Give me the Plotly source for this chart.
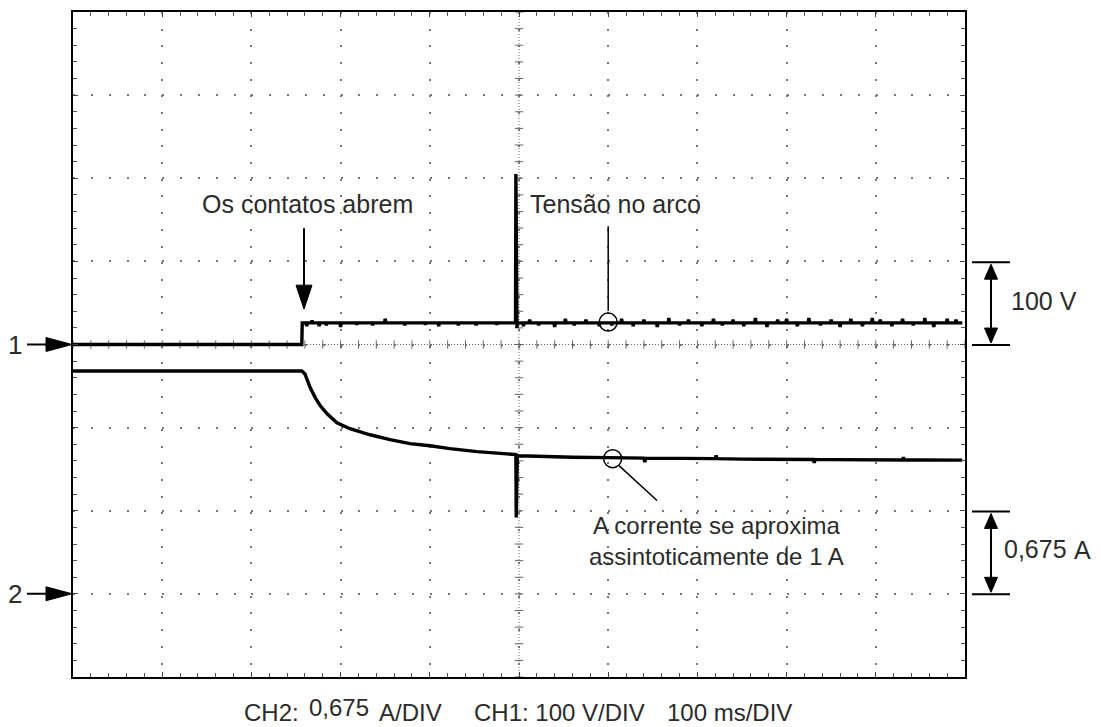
import plotly.graph_objects as go

# ---------------- data ----------------
# CH1: voltage across contacts (V), 100 V/DIV, ground at centre line
ch1_closed_t_ms = [0, 256.5]
ch1_closed_v = [0, 0]
ch1_open_t_ms = 257.0
ch1_arc_level_v = 26
ch1_end_t_ms = 997
# short noise blips on the arc-voltage level
ch1_blip_t_ms = [262, 268, 276, 284, 300, 318, 336, 350, 372, 395, 410, 432, 452, 475,
                 505, 512, 522, 540, 552, 562, 575, 590, 604, 615, 628, 640, 655, 668,
                 680, 690, 705, 718, 728, 740, 752, 765, 778, 790, 800, 812, 825, 838,
                 850, 860, 872, 885, 896, 905, 918, 930, 942, 955, 965, 980, 990]
ch1_blip_v = [22, 29, 22, 23, 21, 24, 23, 31, 23, 24, 22, 23, 23, 24,
              22, 30, 23, 21, 31, 23, 30, 22, 23, 31, 22, 30, 21, 32,
              23, 30, 22, 31, 23, 30, 22, 32, 21, 30, 31, 22, 32, 23,
              30, 21, 31, 22, 32, 30, 22, 31, 23, 32, 21, 31, 30]
# the arc-voltage spike
ch1_spike_t_ms = [496.5, 496.9, 497.3, 497.7, 498.1]
ch1_spike_v = [205, 60, 108, 20, 26]

# CH2: current (A), 0.675 A/DIV, ground one division above the bottom
ch2_t_ms = [0, 256.5, 260, 266, 271.7, 277.3, 284.9, 295.9, 310.5, 333, 355.4, 377.8,
            400.2, 422.6, 452.9, 482, 496.5, 496.9, 497.3, 497.7, 498.1, 510, 530,
            560, 600, 640, 641, 642, 680, 720, 721, 722, 750, 800, 830, 831, 832,
            850, 900, 930, 931, 932, 950, 997]
ch2_a = [1.81, 1.81, 1.786, 1.673, 1.592, 1.527, 1.462, 1.389, 1.341, 1.292, 1.252,
         1.220, 1.203, 1.179, 1.155, 1.139, 1.131, 0.62, 1.00, 0.75, 1.12, 1.12,
         1.114, 1.110, 1.106, 1.102, 1.07, 1.102, 1.100, 1.098, 1.125, 1.098, 1.094,
         1.092, 1.091, 1.065, 1.091, 1.090, 1.088, 1.087, 1.11, 1.087, 1.087, 1.086]

arc_marker = (600, 27)         # (ms, V)
current_marker = (605, 1.098)  # (ms, A)

volts_per_div = 100
amps_per_div = 0.675
ms_per_div = 100

# assemble CH1 series from the values above
ch1_t = list(ch1_closed_t_ms) + [ch1_open_t_ms]
ch1_v = list(ch1_closed_v) + [ch1_arc_level_v]
events = [(t, [(t - 0.8, ch1_arc_level_v), (t, v), (t + 0.8, ch1_arc_level_v)])
          for t, v in zip(ch1_blip_t_ms, ch1_blip_v)]
events.append((ch1_spike_t_ms[0],
               [(ch1_spike_t_ms[0] - 0.4, ch1_arc_level_v)] + list(zip(ch1_spike_t_ms, ch1_spike_v))))
events.sort(key=lambda e: e[0])
for _, pts in events:
    for t, v in pts:
        ch1_t.append(t)
        ch1_v.append(v)
ch1_t.append(ch1_end_t_ms)
ch1_v.append(ch1_arc_level_v)

# ---------------- geometry helpers (plot area in pixels) ----------------
L, R, T, B = 73, 965, 10, 677
W, H = R - L, B - T


def PX(x):
    return (x - L) / W


def PY(y):
    return (B - y) / H


FONT = "Liberation Sans, Arial, sans-serif"
TXT = "#2b2b2b"

fig = go.Figure()

# centre-line cross ticks (graticule decoration)
ctr_x = [i * ms_per_div / 5 for i in range(51)]
ctr_y = [i * volts_per_div / 5 for i in range(-20, 21)]
fig.add_trace(go.Scatter(x=ctr_x, y=[0] * len(ctr_x), mode="markers",
                         marker=dict(symbol="line-ns", size=6,
                                     line=dict(width=1, color="#666")),
                         hoverinfo="skip", showlegend=False))
fig.add_trace(go.Scatter(x=[5 * ms_per_div] * len(ctr_y), y=ctr_y, mode="markers",
                         marker=dict(symbol="line-ew", size=6,
                                     line=dict(width=1, color="#666")),
                         hoverinfo="skip", showlegend=False))

# traces
fig.add_trace(go.Scatter(x=ch1_t, y=ch1_v, mode="lines",
                         line=dict(color="black", width=3.4),
                         showlegend=False, yaxis="y"))
fig.add_trace(go.Scatter(x=ch2_t_ms, y=ch2_a, mode="lines",
                         line=dict(color="black", width=3.4),
                         showlegend=False, yaxis="y2"))

shapes = []
# centre dotted lines
shapes.append(dict(type="line", xref="x", yref="y", x0=0, x1=10 * ms_per_div, y0=0, y1=0,
                   line=dict(color="#666", width=1, dash="1px,2px"), layer="below"))
shapes.append(dict(type="line", xref="x", yref="y", x0=5 * ms_per_div, x1=5 * ms_per_div,
                   y0=-4 * volts_per_div, y1=4 * volts_per_div,
                   line=dict(color="#666", width=1, dash="1px,2px"), layer="below"))

# "Os contatos abrem" arrow
ax = PX(304)
shapes.append(dict(type="line", xref="paper", yref="paper", x0=ax, x1=ax,
                   y0=PY(227), y1=PY(290), line=dict(color="black", width=2)))
shapes.append(dict(type="path", xref="paper", yref="paper",
                   path=f"M{PX(296)},{PY(284)} L{PX(312)},{PY(284)} L{ax},{PY(308)} Z",
                   fillcolor="black", line=dict(color="black", width=1)))

# arc voltage marker: circle + pointer
shapes.append(dict(type="circle", xref="x", yref="y", xsizemode="pixel", ysizemode="pixel",
                   xanchor=arc_marker[0], yanchor=arc_marker[1], x0=-9, x1=9, y0=-9, y1=9,
                   line=dict(color="black", width=1.5)))
shapes.append(dict(type="line", xref="x", yref="paper", x0=arc_marker[0], x1=arc_marker[0],
                   y0=PY(225), y1=PY(310), line=dict(color="black", width=1.5)))

# current marker: circle + pointer
shapes.append(dict(type="circle", xref="x", yref="y2", xsizemode="pixel", ysizemode="pixel",
                   xanchor=current_marker[0], yanchor=current_marker[1], x0=-9, x1=9, y0=-9, y1=9,
                   line=dict(color="black", width=1.5)))
shapes.append(dict(type="line", xref="paper", yref="paper", x0=PX(619), x1=PX(657),
                   y0=PY(465), y1=PY(500), line=dict(color="black", width=1.5)))


# right-hand scale markers
def dim_arrow(ytop, ybot):
    xa = PX(991)
    out = []
    for yy in (ytop, ybot):
        out.append(dict(type="line", xref="paper", yref="paper", x0=PX(972), x1=PX(1010),
                        y0=PY(yy), y1=PY(yy), line=dict(color="black", width=2)))
    out.append(dict(type="line", xref="paper", yref="paper", x0=xa, x1=xa,
                    y0=PY(ytop + 12), y1=PY(ybot - 12), line=dict(color="black", width=2)))
    out.append(dict(type="path", xref="paper", yref="paper",
                    path=f"M{xa},{PY(ytop + 2)} L{PX(984.5)},{PY(ytop + 17)} L{PX(997.5)},{PY(ytop + 17)} Z",
                    fillcolor="black", line=dict(color="black", width=1)))
    out.append(dict(type="path", xref="paper", yref="paper",
                    path=f"M{xa},{PY(ybot - 2)} L{PX(984.5)},{PY(ybot - 17)} L{PX(997.5)},{PY(ybot - 17)} Z",
                    fillcolor="black", line=dict(color="black", width=1)))
    return out


shapes += dim_arrow(261, 344)
shapes += dim_arrow(511, 594)

# channel ground markers on the left
for yy in (343.5, 593.5):
    shapes.append(dict(type="line", xref="paper", yref="paper", x0=PX(27), x1=PX(50),
                       y0=PY(yy), y1=PY(yy), line=dict(color="black", width=2)))
    shapes.append(dict(type="path", xref="paper", yref="paper",
                       path=f"M{PX(46)},{PY(yy - 7)} L{PX(72)},{PY(yy)} L{PX(46)},{PY(yy + 7)} Z",
                       fillcolor="black", line=dict(color="black", width=1)))

annotations = []


def txt(text, x, y, xanchor="left", size=25):
    annotations.append(dict(text=text, xref="paper", yref="paper", x=PX(x), y=PY(y),
                            xanchor=xanchor, yanchor="middle", showarrow=False,
                            font=dict(family=FONT, size=size, color=TXT)))


txt("Os contatos abrem", 307, 203, "center")
txt("Tensão no arco", 528, 203)
txt("A corrente se aproxima<br>assintoticamente de 1 A", 716, 541, "center", 24)
txt("100 V", 1009, 300)
txt("0,675", 1002, 549)
txt("A", 1072, 550)
txt("1", 15, 344, "center", 26)
txt("2", 15, 594, "center", 26)
txt("CH2:", 242, 713, size=24)
txt("0,675", 307, 708, size=24)
txt("A/DIV", 377, 713, size=24)
txt("CH1: 100 V/DIV", 472, 713, size=24)
txt("100 ms/DIV", 794, 713, "right", size=24)

axis_common = dict(showticklabels=False, showline=True, linecolor="black", linewidth=2,
                   mirror="ticks", ticks="inside", ticklen=5, tickcolor="#444", tickwidth=1,
                   zeroline=False, showgrid=True, gridcolor="#777", gridwidth=2,
                   fixedrange=True)

fig.update_layout(
    width=1101, height=727,
    margin=dict(l=L, r=1101 - R, t=T, b=727 - B),
    paper_bgcolor="white", plot_bgcolor="white",
    showlegend=False,
    xaxis=dict(range=[0, 10 * ms_per_div], dtick=ms_per_div, tick0=0,
               griddash="2px,14.68px",
               minor=dict(dtick=ms_per_div / 5, ticks="inside", ticklen=4,
                          tickcolor="#555", tickwidth=1, showgrid=False),
               **axis_common),
    yaxis=dict(range=[-4 * volts_per_div, 4 * volts_per_div], dtick=volts_per_div, tick0=0,
               griddash="2px,15.84px",
               minor=dict(dtick=volts_per_div / 5, ticks="inside", ticklen=4,
                          tickcolor="#555", tickwidth=1, showgrid=False),
               **axis_common),
    yaxis2=dict(range=[-amps_per_div, 7 * amps_per_div], overlaying="y", visible=False,
                fixedrange=True),
    shapes=shapes,
    annotations=annotations,
)

fig.write_html("out.html")
